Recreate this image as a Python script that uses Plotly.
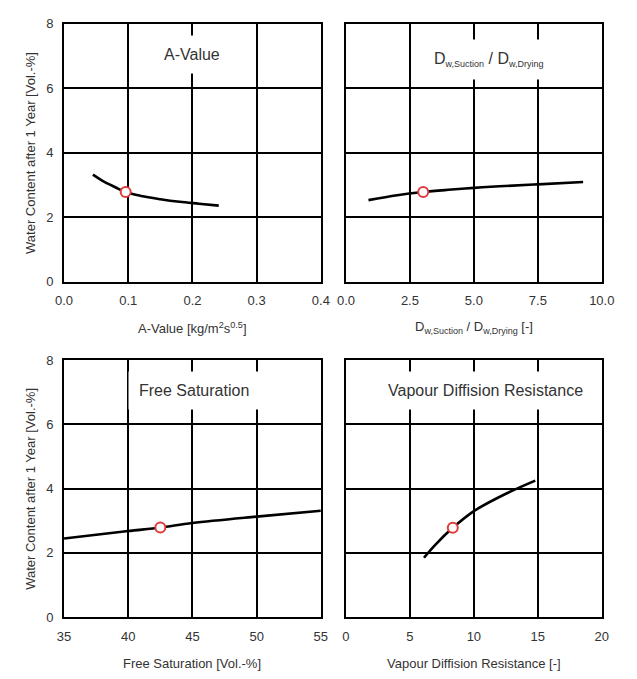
import plotly.graph_objects as go

# ---- data ----
a_x = [0.045, 0.06, 0.08, 0.096, 0.12, 0.15, 0.18, 0.21, 0.241]
a_y = [3.32, 3.13, 2.93, 2.78, 2.66, 2.56, 2.48, 2.42, 2.36]
a_ref = (0.096, 2.78)

d_x = [0.88, 2.0, 3.02, 4.0, 5.0, 6.0, 7.5, 9.27]
d_y = [2.53, 2.68, 2.78, 2.85, 2.91, 2.96, 3.02, 3.09]
d_ref = (3.02, 2.78)

f_x = [35, 40, 42.5, 45, 50, 55]
f_y = [2.45, 2.68, 2.79, 2.93, 3.13, 3.31]
f_ref = (42.5, 2.79)

v_x = [6.1, 7.0, 8.35, 10.0, 12.5, 14.8]
v_y = [1.85, 2.26, 2.78, 3.30, 3.84, 4.25]
v_ref = (8.35, 2.78)

y_ticks = [0, 2, 4, 6, 8]
sub = '<span style="font-size:9px">{}</span>'
panel_titles = ["A-Value",
                "D<sub>" + sub.format("w,Suction") + "</sub> / D<sub>" + sub.format("w,Drying") + "</sub>",
                "Free Saturation", "Vapour Diffision Resistance"]
x_titles = ["A-Value [kg/m<sup>2</sup>s<sup>0.5</sup>]",
            "D<sub>" + sub.format("w,Suction") + "</sub> / D<sub>" + sub.format("w,Drying") + "</sub> [-]",
            "Free Saturation [Vol.-%]",
            "Vapour Diffision Resistance [-]"]
y_title = "Water Content after 1 Year [Vol.-%]"
x_ranges = [[0, 0.4], [0, 10], [35, 55], [0, 20]]
x_dticks = [0.1, 2.5, 5, 5]
x_formats = [".1f", ".1f", "d", "d"]
title_pos = [(0.2, 7.05), (5.6, 6.9), (45.1, 7.05), (10.9, 7.05)]

W, H = 637, 679
left_dom = [57 / W, 323 / W]
right_dom = [349 / W, 614 / W]
top_dom = [1 - 281 / H, 1 - 17 / H]
bot_dom = [1 - 624 / H, 1 - 361 / H]

fig = go.Figure()
series = [(a_x, a_y, a_ref), (d_x, d_y, d_ref), (f_x, f_y, f_ref), (v_x, v_y, v_ref)]
doms = [(left_dom, top_dom), (right_dom, top_dom), (left_dom, bot_dom), (right_dom, bot_dom)]
text_col = "#333333"
font_family = "Liberation Sans, Arial, sans-serif"

layout = dict(width=W, height=H, margin=dict(l=0, r=0, t=0, b=0),
              paper_bgcolor="white", plot_bgcolor="white", showlegend=False,
              font=dict(family=font_family, color=text_col))
annotations = []
for i, ((xs, ys, ref), (xd, yd)) in enumerate(zip(series, doms)):
    n = "" if i == 0 else str(i + 1)
    xa, ya = "x" + n, "y" + n
    fig.add_trace(go.Scatter(x=xs, y=ys, mode="lines", line=dict(color="black", width=2.6, shape="spline"),
                             xaxis=xa, yaxis=ya, hoverinfo="skip"))
    fig.add_trace(go.Scatter(x=[ref[0]], y=[ref[1]], mode="markers",
                             marker=dict(symbol="circle", size=10, color="white",
                                         line=dict(color="#e03a3a", width=2)),
                             xaxis=xa, yaxis=ya))
    left = i % 2 == 0
    layout["xaxis" + n] = dict(domain=xd, anchor=ya, range=x_ranges[i], dtick=x_dticks[i], tick0=x_ranges[i][0],
                               tickformat=x_formats[i], showgrid=True, gridcolor="black", gridwidth=1.6,
                               zeroline=False, showline=True, linecolor="black", linewidth=1.8, mirror=True,
                               ticks="", ticklabelstandoff=6, tickfont=dict(size=13, color=text_col),
                               fixedrange=True)
    layout["yaxis" + n] = dict(domain=yd, anchor=xa, range=[0, 8], tickvals=y_ticks,
                               showticklabels=left, showgrid=True, gridcolor="black", gridwidth=1.6,
                               zeroline=False, showline=True, linecolor="black", linewidth=1.8, mirror=True,
                               ticks="", ticklabelstandoff=6, tickfont=dict(size=13, color=text_col),
                               fixedrange=True)
    annotations.append(dict(x=title_pos[i][0], y=title_pos[i][1], xref=xa, yref=ya, text=panel_titles[i],
                            showarrow=False, font=dict(size=16, color=text_col), bgcolor="white",
                            borderpad=10, xanchor="center", yanchor="middle"))
    annotations.append(dict(x=(xd[0] + xd[1]) / 2, y=yd[0] - 47 / H, xref="paper", yref="paper",
                            text=x_titles[i], showarrow=False, font=dict(size=13, color=text_col),
                            xanchor="center", yanchor="middle"))
    if left:
        annotations.append(dict(x=22 / W, y=(yd[0] + yd[1]) / 2, xref="paper", yref="paper",
                                text=y_title, textangle=-90, showarrow=False,
                                font=dict(size=13, color=text_col), xanchor="center", yanchor="middle"))

layout["annotations"] = annotations
fig.update_layout(**layout)
fig.write_html("out.html")
